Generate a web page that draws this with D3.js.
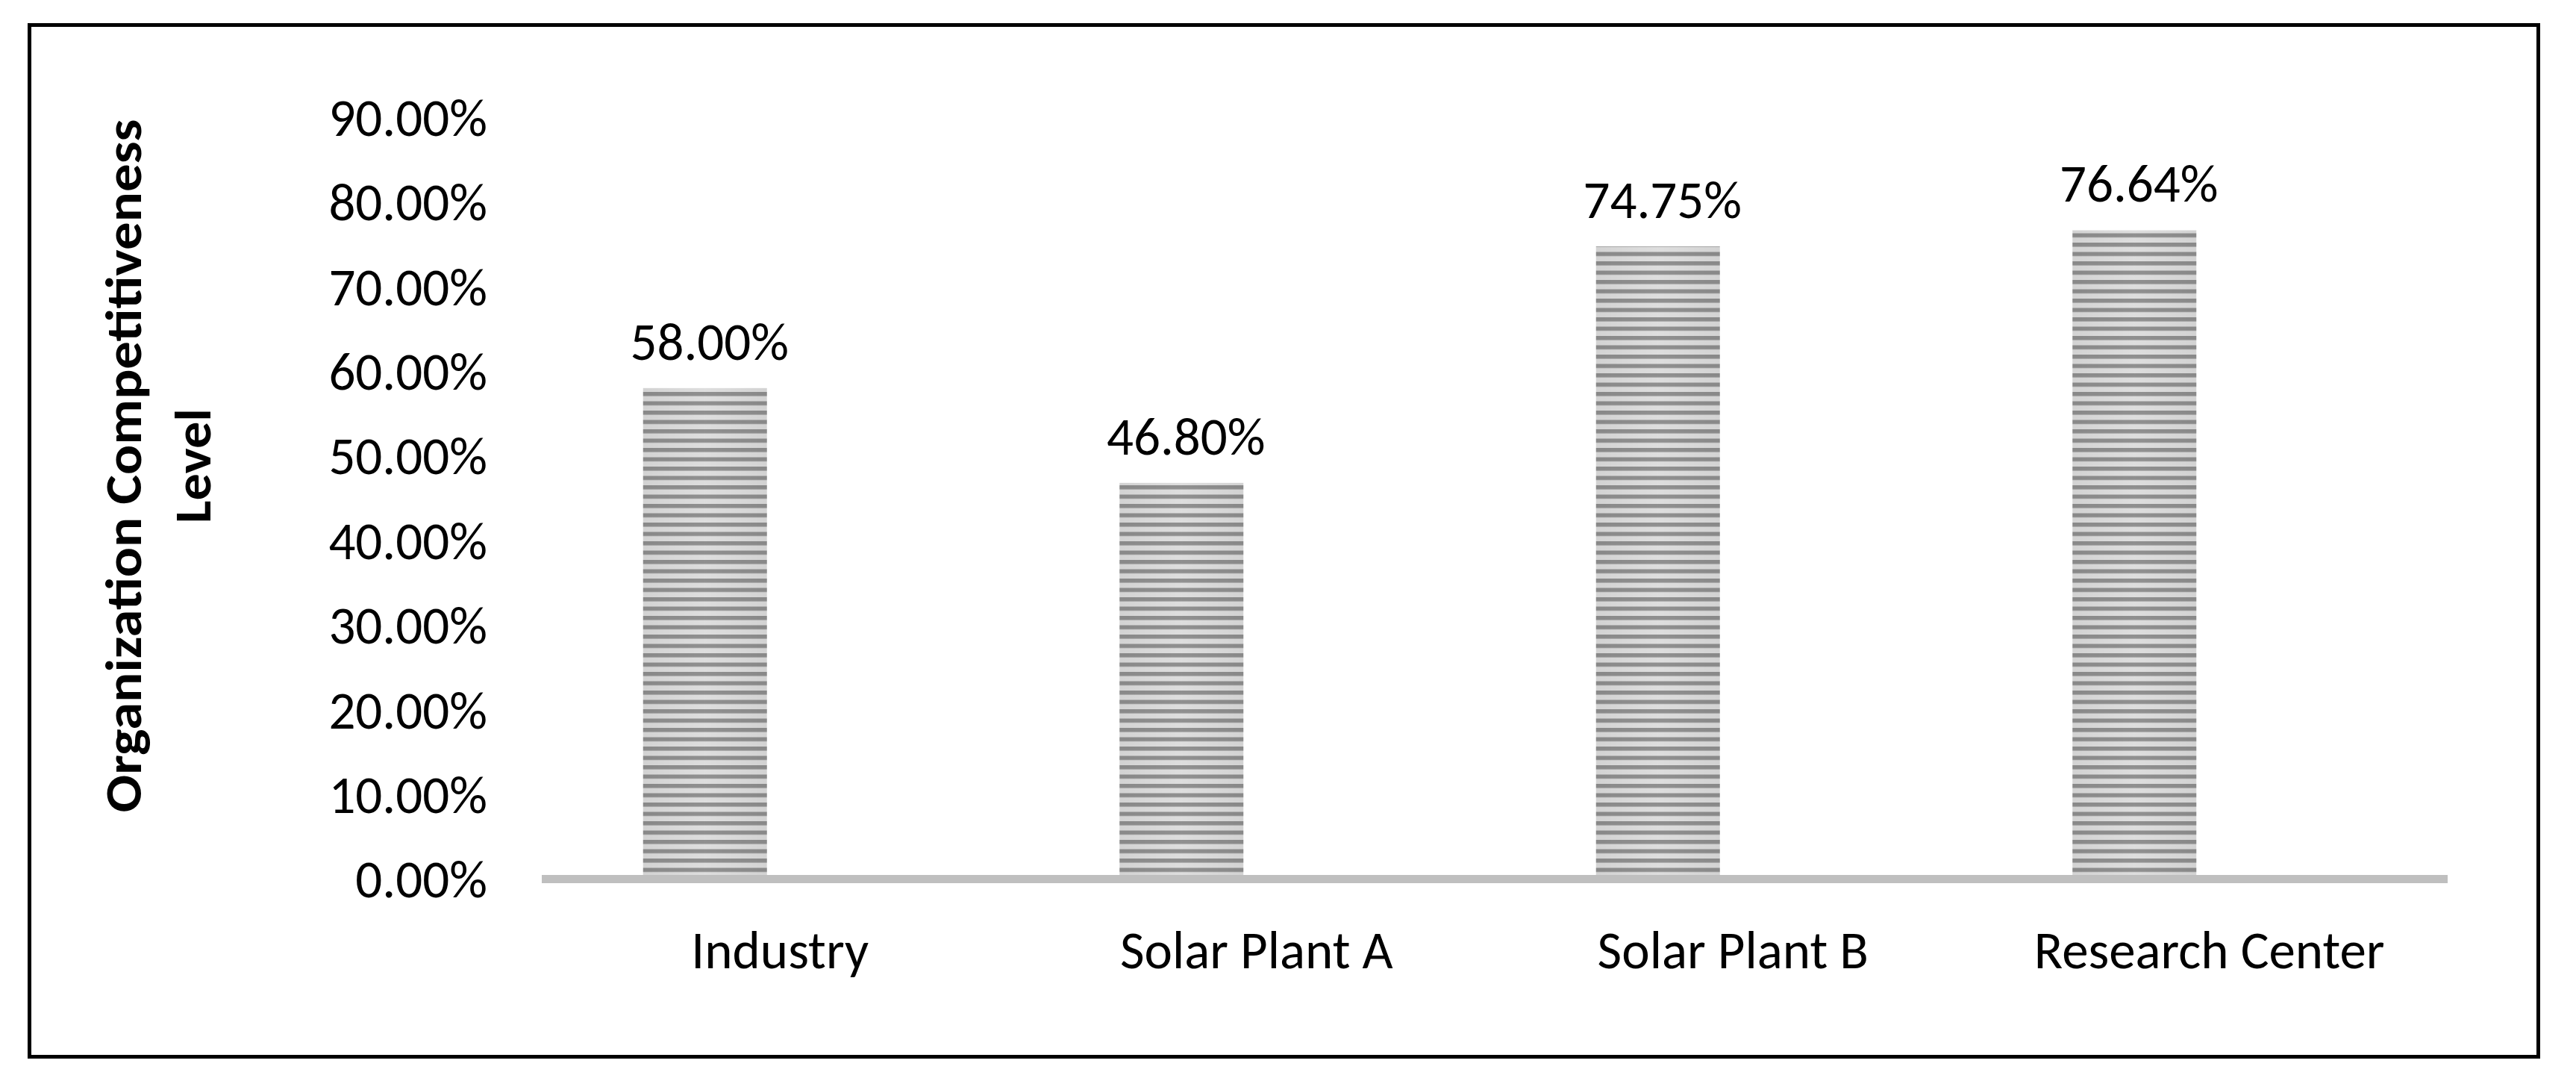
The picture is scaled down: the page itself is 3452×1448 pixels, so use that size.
<!DOCTYPE html>
<html>
	<head>
		<meta charset="utf-8">
		<script src="https://d3js.org/d3.v7.min.js"></script>
		<style>
			body {
			margin: 0;
			background: #ffffff;
			}
			text {
			font-family: Carlito, Calibri, Lato, sans-serif;
			fill: #000000;
			}
		</style>
	</head>
	<body>
		<script type="text/javascript">
			// chart data
			var categories = ["Industry", "Solar Plant A", "Solar Plant B", "Research Center"];
			var values = [58.00, 46.80, 74.75, 76.64];
			var valueLabels = ["58.00%", "46.80%", "74.75%", "76.64%"];
			var yTicks = [0, 10, 20, 30, 40, 50, 60, 70, 80, 90];
			var yTitle = ["Organization Competitiveness", "Level"];

			var width = 3452,
				height = 1448,
				fontSize = "71px";

			var svg = d3.select("body")
				.append("svg")
				.attr("width", width)
				.attr("height", height);

			svg.append("rect")
				.attr("width", width)
				.attr("height", height)
				.attr("fill", "#ffffff");

			// striped fill for the bars
			var defs = svg.append("defs");
			var grad = defs.append("linearGradient")
				.attr("id", "lightGrad")
				.attr("x1", "0").attr("x2", "1")
				.attr("y1", "0").attr("y2", "0");
			grad.append("stop").attr("offset", "0").attr("stop-color", "#cfcfcf");
			grad.append("stop").attr("offset", "0.5").attr("stop-color", "#f2f2f2");
			grad.append("stop").attr("offset", "1").attr("stop-color", "#cfcfcf");

			var pattern = defs.append("pattern")
				.attr("id", "stripes")
				.attr("patternUnits", "userSpaceOnUse")
				.attr("width", 4000)
				.attr("height", 12.5);
			pattern.append("rect")
				.attr("width", 4000)
				.attr("height", 12.5)
				.attr("fill", "#e2e2e2");
			pattern.append("rect")
				.attr("y", 0)
				.attr("width", 4000)
				.attr("height", 5.5)
				.attr("fill", "#929292");

			// outer frame
			svg.append("rect")
				.attr("x", 39.5)
				.attr("y", 33.5)
				.attr("width", 3362)
				.attr("height", 1382)
				.attr("fill", "none")
				.attr("stroke", "#000000")
				.attr("stroke-width", 5);

			// scales
			var y = d3.scaleLinear()
				.domain([0, 90])
				.range([1177.5, 157]);

			var x = d3.scaleBand()
				.domain(categories)
				.range([726, 3280])
				.paddingInner(0.74)
				.paddingOuter(0.37);

			// bars sit a little left of the category slots in the original
			var barShift = -100.5;

			// y axis tick labels
			svg.append("g")
				.selectAll("text")
				.data(yTicks)
				.enter()
				.append("text")
					.attr("x", 653)
					.attr("y", function (d) { return y(d); })
					.attr("dy", "0.35em")
					.attr("text-anchor", "end")
					.style("font-size", fontSize)
					.text(function (d) { return d.toFixed(2) + "%"; });

			// bars
			var bars = svg.append("g");
			bars.selectAll("rect.bar")
				.data(values)
				.enter()
				.append("rect")
					.attr("class", "bar")
					.attr("x", function (d, i) { return x(categories[i]) + barShift; })
					.attr("y", function (d) { return y(d); })
					.attr("width", x.bandwidth())
					.attr("height", function (d) { return y(0) - y(d); })
					.attr("fill", "url(#stripes)");
			bars.selectAll("rect.shade")
				.data(values)
				.enter()
				.append("rect")
					.attr("class", "shade")
					.attr("x", function (d, i) { return x(categories[i]) + barShift; })
					.attr("y", function (d) { return y(d); })
					.attr("width", x.bandwidth())
					.attr("height", function (d) { return y(0) - y(d); })
					.attr("fill", "url(#lightGrad)")
					.attr("opacity", 0.35)
					.style("mix-blend-mode", "multiply");

			// value labels
			svg.append("g")
				.selectAll("text")
				.data(values)
				.enter()
				.append("text")
					.attr("x", function (d, i) { return x(categories[i]) + barShift + x.bandwidth() / 2 + 6; })
					.attr("y", function (d) { return y(d) - 38; })
					.attr("text-anchor", "middle")
					.style("font-size", fontSize)
					.text(function (d, i) { return valueLabels[i]; });

			// category axis line
			svg.append("rect")
				.attr("x", x.range()[0])
				.attr("y", y(0) - 5.5)
				.attr("width", x.range()[1] - x.range()[0])
				.attr("height", 11)
				.attr("fill", "#bfbfbf");

			// category labels
			svg.append("g")
				.selectAll("text")
				.data(categories)
				.enter()
				.append("text")
					.attr("x", function (d) { return x(d) + x.bandwidth() / 2; })
					.attr("y", 1297)
					.attr("text-anchor", "middle")
					.style("font-size", fontSize)
					.text(function (d) { return d; });

			// y axis title, two lines
			svg.append("g")
				.selectAll("text")
				.data(yTitle)
				.enter()
				.append("text")
					.attr("transform", function (d, i) { return "translate(" + (189 + i * 93) + ",624) rotate(-90)"; })
					.attr("text-anchor", "middle")
					.style("font-size", "68px")
					.style("font-weight", "bold")
					.attr("textLength", function (d, i) { return i === 0 ? 929 : 154; })
					.attr("lengthAdjust", "spacingAndGlyphs")
					.text(function (d) { return d; });
		</script>
	</body>
</html>
